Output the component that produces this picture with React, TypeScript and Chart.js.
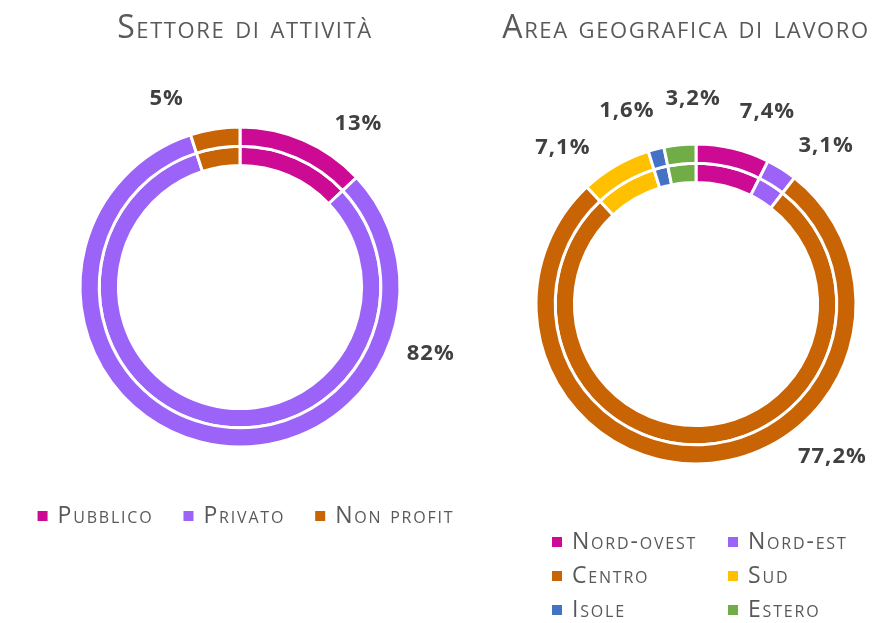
import React, { useEffect, useRef } from 'react';
import { Chart, registerables } from 'chart.js';

Chart.register(...registerables);

// ---- Data ----
const settoreTitle = 'Settore di attività';
const settoreCategories = ['Pubblico', 'Privato', 'Non profit'];
const settoreValues = [13, 82, 5];
const settoreColors = ['#CC0A93', '#9B63F7', '#C86404'];

const areaTitle = 'Area geografica di lavoro';
const areaCategories = ['Nord-ovest', 'Nord-est', 'Centro', 'Sud', 'Isole', 'Estero'];
const areaValues = [7.4, 3.1, 77.2, 7.1, 1.6, 3.2];
const areaColors = ['#CC0A93', '#9B63F7', '#C86404', '#FFC000', '#4472C4', '#70AD47'];

// label anchor angles (degrees clockwise from top) — placement only
const settoreLabelAngles = [35.9, 109.2, -21.3];
const areaLabelAngles = [20.4, 39.4, 138.3, -40.5, -19.7, -0.8];

const fmt = (v: number) => String(v).replace('.', ',') + '%';

type Decor = {
  title: string;
  titleX: number;
  titleBaseline: number;
  names: string[];
  values: number[];
  colors: string[];
  angles: number[];
  labelGap: number;
  legendCols: number[] | null;
  legendShift: number;
  legendBaseline: number;
  legendRowGap: number;
  padding: { top: number; bottom: number; left: number; right: number };
};

const TITLE_FONT = 'normal small-caps 400 32px "Open Sans"';
const TITLE_SPACING = '1.6px';
const LEGEND_FONT = 'normal small-caps 400 23px "Open Sans"';
const LEGEND_SPACING = '1.8px';
const VALUE_FONT = 'normal normal 700 22px "Open Sans"';
const VALUE_SPACING = '1px';
const BOX = 10;
const BOX_TEXT = 20;
const ITEM_GAP = 30;

function decorPlugin(d: Decor) {
  return {
    id: 'decor',
    afterDraw(chart: any) {
      const ctx: any = chart.ctx;
      const arcs = chart.getDatasetMeta(0).data as any[];
      if (!arcs.length) return;
      const cx = arcs[0].x;
      const cy = arcs[0].y;
      const R = arcs[0].outerRadius;
      ctx.save();
      // title
      ctx.font = TITLE_FONT;
      ctx.letterSpacing = TITLE_SPACING;
      ctx.fillStyle = '#595959';
      ctx.textAlign = 'center';
      ctx.textBaseline = 'alphabetic';
      ctx.fillText(d.title, d.titleX, d.titleBaseline);
      // value labels
      ctx.font = VALUE_FONT;
      ctx.letterSpacing = VALUE_SPACING;
      ctx.fillStyle = '#404040';
      ctx.textBaseline = 'middle';
      d.values.forEach((v, i) => {
        const a = (d.angles[i] * Math.PI) / 180;
        const r = R + d.labelGap;
        ctx.fillText(fmt(v), cx + Math.sin(a) * r, cy - Math.cos(a) * r);
      });
      // legend
      ctx.font = LEGEND_FONT;
      ctx.letterSpacing = LEGEND_SPACING;
      ctx.textAlign = 'left';
      ctx.textBaseline = 'alphabetic';
      const drawItem = (x: number, y: number, name: string, color: string) => {
        ctx.fillStyle = color;
        ctx.fillRect(x, y - 12, BOX, BOX);
        ctx.fillStyle = '#595959';
        ctx.fillText(name, x + BOX_TEXT, y);
      };
      if (d.legendCols) {
        const cols = d.legendCols;
        d.names.forEach((n, i) => {
          const col = i % cols.length;
          const row = Math.floor(i / cols.length);
          drawItem(cols[col], d.legendBaseline + row * d.legendRowGap, n, d.colors[i]);
        });
      } else {
        const widths = d.names.map((n) => BOX_TEXT + ctx.measureText(n).width);
        const total = widths.reduce((s, w) => s + w, 0) + ITEM_GAP * (widths.length - 1);
        let x = cx + d.legendShift - total / 2;
        d.names.forEach((n, i) => {
          drawItem(x, d.legendBaseline, n, d.colors[i]);
          x += widths[i] + ITEM_GAP;
        });
      }
      ctx.restore();
    },
  };
}

function buildConfig(d: Decor): any {
  const ring = () => ({
    data: d.values,
    backgroundColor: d.colors,
    borderColor: '#ffffff',
    borderWidth: 3,
    hoverOffset: 0,
  });
  return {
    type: 'doughnut',
    data: { labels: d.names, datasets: [ring(), ring()] },
    options: {
      responsive: false,
      animation: false,
      radius: 160,
      cutout: '76%',
      events: [],
      layout: { padding: d.padding },
      plugins: {
        legend: { display: false },
        title: { display: false },
        tooltip: { enabled: false },
      },
    },
    plugins: [decorPlugin(d)],
  };
}

const settoreDecor: Decor = {
  title: settoreTitle,
  titleX: 245,
  titleBaseline: 38,
  names: settoreCategories,
  values: settoreValues,
  colors: settoreColors,
  angles: settoreLabelAngles,
  labelGap: 42,
  legendCols: null,
  legendShift: 6,
  legendBaseline: 523,
  legendRowGap: 0,
  padding: { top: 40, bottom: 89, left: 0, right: 0 },
};

const areaDecor: Decor = {
  title: areaTitle,
  titleX: 206,
  titleBaseline: 38,
  names: areaCategories,
  values: areaValues,
  colors: areaColors,
  angles: areaLabelAngles,
  labelGap: 45,
  legendCols: [72, 248],
  legendShift: 0,
  legendBaseline: 549,
  legendRowGap: 34,
  padding: { top: 40, bottom: 55, left: 28, right: 0 },
};

function RingChart({ decor, left, width }: { decor: Decor; left: number; width: number }) {
  const ref = useRef<HTMLCanvasElement>(null);
  useEffect(() => {
    if (!ref.current) return;
    const chart = new Chart(ref.current, buildConfig(decor));
    return () => chart.destroy();
  }, [decor]);
  return (
    <canvas
      ref={ref}
      width={width}
      height={623}
      style={{ position: 'absolute', left, top: 0, width, height: 623, display: 'block' }}
    />
  );
}

export default function App() {
  return (
    <div style={{ position: 'absolute', left: 0, top: 0, width: 884, height: 623, background: '#ffffff', overflow: 'hidden' }}>
      <RingChart decor={settoreDecor} left={0} width={480} />
      <RingChart decor={areaDecor} left={480} width={404} />
    </div>
  );
}
